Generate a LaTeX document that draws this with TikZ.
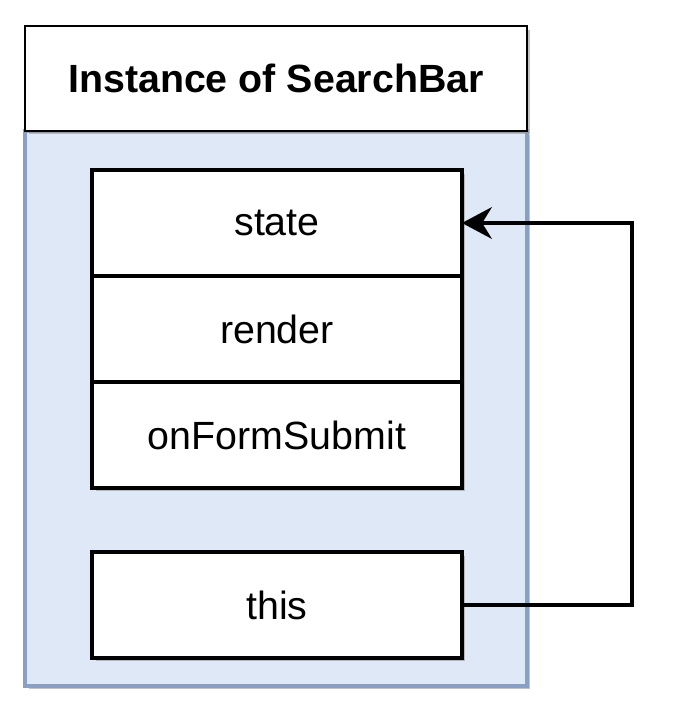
\documentclass[tikz,border=0pt]{standalone}
\usepackage{fontspec}
\setmainfont{Liberation Sans}
\usepackage{xcolor}
\usepackage{tikz}
\usetikzlibrary{arrows.meta,positioning,shadows}
\definecolor{sbFill}{HTML}{DEE8F7}
\definecolor{sbEdge}{HTML}{8A9FC6}
\definecolor{sbShade}{HTML}{9A9A9A}
\tikzset{
  sbshadow/.style={drop shadow={shadow xshift=0.07cm,shadow yshift=-0.07cm,
                   fill=sbShade,opacity=0.6}},
  sbhead/.style={rectangle,draw=black,line width=1.4pt,fill=white,sbshadow,
                 minimum width=10.04cm,minimum height=2.1cm,outer sep=0pt,
                 font=\fontsize{22.4pt}{26pt}\selectfont\bfseries},
  sbpanel/.style={rectangle,draw=sbEdge,line width=2pt,fill=sbFill,sbshadow,
                  minimum width=10.04cm,minimum height=11.1cm,outer sep=0pt},
  sbbox/.style={rectangle,draw=black,line width=2.2pt,fill=white,sbshadow,
                minimum width=7.4cm,minimum height=2.12cm,outer sep=0pt,
                inner sep=0pt,font=\fontsize{22.4pt}{26pt}\selectfont},
  sbarrow/.style={{Stealth[length=17pt,width=18pt,inset=5.5pt]}-,
                  line width=2.2pt,black}
}
\begin{document}
\begin{tikzpicture}[x=0.02cm,y=-0.02cm]
  \useasboundingbox (0,0) rectangle (674,708);
  \node[sbpanel] (panel) at (276,408.5) {};
  \node[sbhead] (head) at (276,78.5) {Instance of SearchBar};

  \node[sbbox] (state) at (277,223) {state};
  \node[sbbox,below=0pt of state] (render) {render};
  \node[sbbox,below=0pt of render] (submit) {onFormSubmit};
  \node[sbbox] (this) at (277,605) {this};

  \draw[sbarrow] (state.east) -| ++(170,0) |- (this.east);
\end{tikzpicture}
\end{document}
